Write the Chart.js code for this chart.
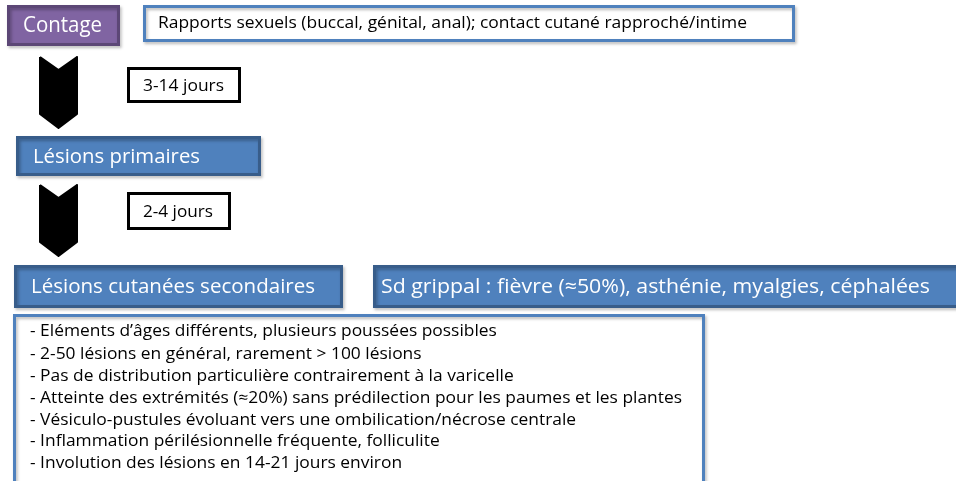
<!DOCTYPE html>
<html>
<head>
<meta charset="utf-8">
<script src="https://cdn.jsdelivr.net/npm/chart.js@4.4.1/dist/chart.umd.min.js"></script>
<style>
  html, body { margin: 0; padding: 0; background: #fff; }
  canvas { display: block; }
</style>
</head>
<body>
<canvas id="flowChart" width="956" height="481"></canvas>
<script>
// texts of the diagram
const stepLabels = ["Contage", "Lésions primaires", "Lésions cutanées secondaires"];
const delayLabels = ["3-14 jours", "2-4 jours"];
const sideLabels = [
  "Rapports sexuels (buccal, génital, anal); contact cutané rapproché/intime",
  "Sd grippal : fièvre (≈50%), asthénie, myalgies, céphalées"
];
const lesionNotes = [
  "- Eléments d’âges différents, plusieurs poussées possibles",
  "- 2-50 lésions en général, rarement > 100 lésions",
  "- Pas de distribution particulière contrairement à la varicelle",
  "- Atteinte des extrémités (≈20%) sans prédilection pour les paumes et les plantes",
  "- Vésiculo-pustules évoluant vers une ombilication/nécrose centrale",
  "- Inflammation périlésionnelle fréquente, folliculite",
  "- Involution des lésions en 14-21 jours environ"
];

// layout (canvas units, y grows downward)
const FONT = '"Open Sans", "Noto Sans", sans-serif';
const PURPLE = { fill: "#8064A2", stroke: "#5C4776", text: "#fff" };
const BLUE = { fill: "#4F81BD", stroke: "#385D8A", text: "#fff" };
const WHITE = { fill: "#fff", stroke: "#4F81BD", text: "#000" };
const PLAIN = { fill: "#fff", stroke: "#000", text: "#000" };

const boxes = [
  { x0: 8.5, x1: 118.5, y0: 6.5, y1: 44.5, style: PURPLE, text: stepLabels[0], tx: 23, ty: 26, tw: 79, size: 21 },
  { x0: 144.5, x1: 793.5, y0: 6.5, y1: 40.5, style: WHITE, text: sideLabels[0], tx: 158, ty: 23, tw: 589, size: 16 },
  { x0: 128.5, x1: 239.5, y0: 68.5, y1: 101.5, style: PLAIN, text: delayLabels[0], tx: 143, ty: 86, tw: 81, size: 16 },
  { x0: 17.5, x1: 259.5, y0: 137.5, y1: 174.5, style: BLUE, text: stepLabels[1], tx: 33, ty: 157, tw: 167, size: 20 },
  { x0: 128.5, x1: 229.5, y0: 193.5, y1: 228.5, style: PLAIN, text: delayLabels[1], tx: 143, ty: 212, tw: 70, size: 16 },
  { x0: 15.5, x1: 341.5, y0: 266.5, y1: 306.5, style: BLUE, text: stepLabels[2], tx: 31, ty: 287, tw: 284, size: 20 },
  { x0: 374.5, x1: 962, y0: 266.5, y1: 306.5, style: BLUE, text: sideLabels[1], tx: 381, ty: 287, tw: 549, size: 20 },
  { x0: 14.5, x1: 703.5, y0: 315.5, y1: 486, style: WHITE, text: null }
];
const notesX = 30, notesW = 652, notesSize = 16.5;
const notesY = [331, 354, 376, 398, 420, 441, 463];

const chevronTops = [57, 185];
const chevron = { left: 40, right: 77, notch: 13, side: 57, tip: 71 };

function rectPoints(b) {
  return [
    { x: b.x0, y: b.y0 }, { x: b.x1, y: b.y0 }, { x: b.x1, y: b.y1 },
    { x: b.x0, y: b.y1 }, { x: b.x0, y: b.y0 }
  ];
}
function chevronPoints(top) {
  const c = chevron, mid = (c.left + c.right) / 2;
  return [
    { x: c.left, y: top }, { x: mid, y: top + c.notch }, { x: c.right, y: top },
    { x: c.right, y: top + c.side }, { x: mid, y: top + c.tip }, { x: c.left, y: top + c.side },
    { x: c.left, y: top }
  ];
}

const datasets = [];
boxes.forEach(b => {
  datasets.push({
    data: rectPoints(b),
    showLine: true,
    fill: "shape",
    backgroundColor: b.style.fill,
    borderColor: b.style.stroke,
    borderWidth: 3,
    borderJoinStyle: "miter",
    borderCapStyle: "square",
    pointRadius: 0,
    tension: 0,
    shadow: b.style !== PLAIN
  });
});
chevronTops.forEach(t => {
  datasets.push({
    data: chevronPoints(t),
    showLine: true,
    fill: "shape",
    backgroundColor: "#000",
    borderColor: "#000",
    borderWidth: 2,
    borderJoinStyle: "round",
    pointRadius: 0,
    tension: 0
  });
});

const shadowPlugin = {
  id: "boxShadow",
  beforeDatasetDraw(chart, args) {
    const ds = chart.data.datasets[args.index];
    chart.ctx.save();
    if (ds.shadow) {
      chart.ctx.shadowColor = "rgba(0,0,0,0.28)";
      chart.ctx.shadowOffsetX = 1.5;
      chart.ctx.shadowOffsetY = 2;
      chart.ctx.shadowBlur = 3;
    }
  },
  afterDatasetDraw(chart) {
    chart.ctx.restore();
  }
};

const textPlugin = {
  id: "flowText",
  afterDatasetsDraw(chart) {
    const { ctx, scales: { x, y } } = chart;
    ctx.save();
    ctx.textBaseline = "middle";
    const draw = (str, tx, ty, sx) => {
      ctx.save();
      ctx.translate(x.getPixelForValue(tx), y.getPixelForValue(ty));
      ctx.scale(sx, 1);
      ctx.fillText(str, 0, 0);
      ctx.restore();
    };
    boxes.forEach(b => {
      if (!b.text) return;
      ctx.font = b.size + "px " + FONT;
      ctx.fillStyle = b.style.text;
      const w = ctx.measureText(b.text).width;
      draw(b.text, b.tx, b.ty, b.tw / w);
    });
    ctx.font = notesSize + "px " + FONT;
    ctx.fillStyle = "#000";
    const widest = Math.max(...lesionNotes.map(s => ctx.measureText(s).width));
    lesionNotes.forEach((s, i) => draw(s, notesX, notesY[i], notesW / widest));
    ctx.restore();
  }
};

new Chart(document.getElementById("flowChart"), {
  type: "scatter",
  data: { datasets },
  options: {
    responsive: false,
    animation: false,
    devicePixelRatio: 1,
    layout: { padding: 0 },
    plugins: { legend: { display: false }, tooltip: { enabled: false } },
    scales: {
      x: { type: "linear", min: 0, max: 956, display: false },
      y: { type: "linear", min: 0, max: 481, reverse: true, display: false }
    }
  },
  plugins: [shadowPlugin, textPlugin]
});
</script>
</body>
</html>
